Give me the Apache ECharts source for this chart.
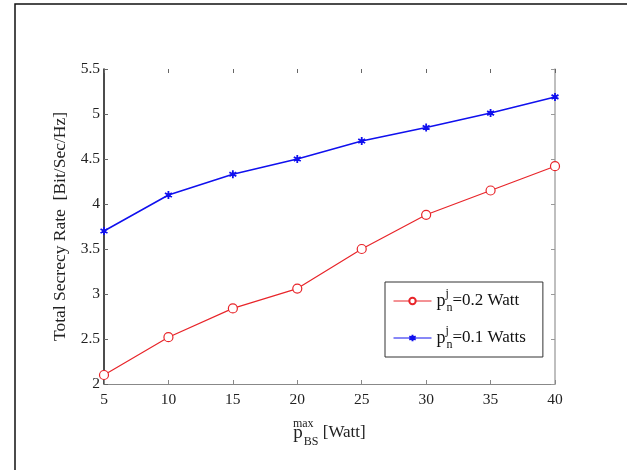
<!DOCTYPE html>
<html>
<head>
<meta charset="utf-8">
<script src="https://cdn.jsdelivr.net/npm/echarts@6/dist/echarts.min.js"></script>
<style>
html,body{margin:0;padding:0;background:#fff;}
#c{width:627px;height:470px;}
</style>
</head>
<body>
<div id="c"></div>
<script>
const pMax = [5, 10, 15, 20, 25, 30, 35, 40];
const rate02 = [2.10, 2.52, 2.84, 3.06, 3.50, 3.88, 4.15, 4.42];
const rate01 = [3.70, 4.10, 4.33, 4.50, 4.70, 4.85, 5.01, 5.19];
const xTicks = [5, 10, 15, 20, 25, 30, 35, 40];
const yTicks = [2, 2.5, 3, 3.5, 4, 4.5, 5, 5.5];
const seriesNames = ['s02', 's01'];
const legendLabels = {s02: ['0.2 Watt'], s01: ['0.1 Watts']};

const FONT = 'Liberation Serif';
const chart = echarts.init(document.getElementById('c'));
const star = 'path://M0,-5L0,5M-4.33,-2.5L4.33,2.5M-4.33,2.5L4.33,-2.5M-3,0L3,0';

chart.setOption({
  animation: false,
  backgroundColor: '#fff',
  textStyle: {fontFamily: FONT},
  grid: {left: 104, right: 72, top: 69, bottom: 86},
  graphic: [{
    type: 'rect', silent: true,
    shape: {x: 15, y: 4, width: 700, height: 600},
    style: {fill: 'none', stroke: '#111', lineWidth: 1.5}
  }],
  legend: {
    left: 385, top: 282,
    orient: 'vertical',
    padding: [6, 17, 6, 8],
    itemGap: 11,
    itemWidth: 38, itemHeight: 8,
    backgroundColor: '#fff',
    borderColor: '#333', borderWidth: 1,
    data: seriesNames,
    lineStyle: {width: 1},
    formatter: function (name) {
      return '{p|p}{sup|j}{sub|n}{t|=' + legendLabels[name][0] + '}';
    },
    textStyle: {
      fontFamily: FONT, color: '#111',
      rich: {
        p: {fontSize: 18, fontFamily: FONT, color: '#111', lineHeight: 26, verticalAlign: 'middle'},
        sup: {fontSize: 12, fontFamily: FONT, color: '#111', width: 1, lineHeight: 26, verticalAlign: 'top'},
        sub: {fontSize: 12, fontFamily: FONT, color: '#111', lineHeight: 26, verticalAlign: 'bottom'},
        t: {fontSize: 17, fontFamily: FONT, color: '#111', lineHeight: 26, verticalAlign: 'middle'}
      }
    }
  },
  xAxis: [{
    type: 'value', min: 5, max: 40, interval: 5, position: 'bottom',
    name: '{p|p}{sup|max}{sub|BS}{t| [Watt]}',
    nameLocation: 'middle', nameGap: 34,
    nameTextStyle: {
      rich: {
        p: {fontSize: 19, fontFamily: FONT, color: '#222', lineHeight: 30, verticalAlign: 'middle'},
        sup: {fontSize: 12, fontFamily: FONT, color: '#222', width: 1, lineHeight: 30, verticalAlign: 'top'},
        sub: {fontSize: 12, fontFamily: FONT, color: '#222', lineHeight: 30, verticalAlign: 'bottom'},
        t: {fontSize: 17, fontFamily: FONT, color: '#222', lineHeight: 30, verticalAlign: 'middle'}
      }
    },
    axisLine: {show: true, lineStyle: {color: '#888', width: 1.2}},
    axisTick: {show: true, inside: true, length: 4, lineStyle: {color: '#888'}},
    axisLabel: {
      fontFamily: FONT, fontSize: 15.5, color: '#222', margin: 8,
      customValues: xTicks
    },
    splitLine: {show: false}
  }, {
    type: 'value', min: 5, max: 40, interval: 5, position: 'top',
    axisLine: {show: false},
    axisTick: {show: true, inside: true, length: 4, lineStyle: {color: '#666'}},
    axisLabel: {show: false},
    splitLine: {show: false}
  }],
  yAxis: [{
    type: 'value', min: 2, max: 5.5, interval: 0.5, position: 'left',
    name: 'Total Secrecy Rate  [Bit/Sec/Hz]',
    nameLocation: 'middle', nameGap: 32,
    nameTextStyle: {fontFamily: FONT, fontSize: 17.5, color: '#222'},
    axisLine: {show: true, lineStyle: {color: '#111', width: 1.5}},
    axisTick: {show: true, inside: true, length: 4, lineStyle: {color: '#666'}},
    axisLabel: {
      fontFamily: FONT, fontSize: 15.5, color: '#222', margin: 4,
      customValues: yTicks
    },
    splitLine: {show: false}
  }, {
    type: 'value', min: 2, max: 5.5, interval: 0.5, position: 'right',
    axisLine: {show: true, lineStyle: {color: '#aaa', width: 1.5}},
    axisTick: {show: true, inside: true, length: 4, lineStyle: {color: '#999'}},
    axisLabel: {show: false},
    splitLine: {show: false}
  }],
  series: [{
    name: 's02', type: 'line',
    data: pMax.map((x, i) => [x, rate02[i]]),
    symbol: 'circle', symbolSize: 9,
    itemStyle: {color: '#fff', borderColor: '#e8252a', borderWidth: 1.2},
    lineStyle: {color: '#e8252a', width: 1.2},
    color: '#e8252a'
  }, {
    name: 's01', type: 'line',
    data: pMax.map((x, i) => [x, rate01[i]]),
    symbol: star, symbolSize: 8, symbolKeepAspect: true,
    itemStyle: {color: '#1010ee', borderColor: '#1010ee', borderWidth: 1.8},
    lineStyle: {color: '#1010ee', width: 1.5},
    color: '#1010ee'
  }]
});
</script>
</body>
</html>
